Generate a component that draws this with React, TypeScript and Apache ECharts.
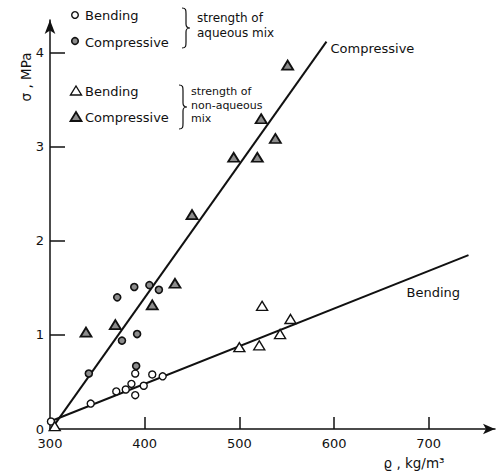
import React, { useEffect, useRef } from "react";
import * as echarts from "echarts";

// ---- data ----
const bendingAqueous: number[][] = [
  [301, 0.08], [343, 0.27], [370, 0.4], [380, 0.42], [386, 0.48], [390, 0.36],
  [399, 0.46], [408, 0.58], [419, 0.56], [390, 0.59],
];
const compressiveAqueous: number[][] = [
  [341, 0.59], [376, 0.94], [392, 1.01], [391, 0.67], [371, 1.4], [389, 1.51],
  [405, 1.53], [415, 1.48],
];
const bendingNonAqueous: number[][] = [
  [305, 0.03], [500, 0.87], [521, 0.89], [543, 1.01], [554, 1.17], [524, 1.31],
];
const compressiveNonAqueous: number[][] = [
  [338, 1.03], [369, 1.11], [408, 1.32], [432, 1.55], [450, 2.28], [494, 2.89],
  [519, 2.89], [523, 3.3], [538, 3.09], [551, 3.87],
];
const compressiveFit: number[][] = [[303, 0.02], [592, 4.12]];
const bendingFit: number[][] = [[300, 0.08], [742, 1.85]];

const xTickValues = [400, 500, 600, 700];
const xLabelValues = [300, 400, 500, 600, 700];
const yTickValues = [1, 2, 3, 4];
const yLabelValues = [0, 1, 2, 3, 4];

const FONT = "DejaVu Sans";

function bracePath(h: number): string {
  const m = h / 2;
  return `M0 0 C4 0 4 2 4 6 L4 ${m - 4} C4 ${m - 1} 5 ${m} 8 ${m} C5 ${m} 4 ${m + 1} 4 ${m + 4} L4 ${h - 6} C4 ${h - 2} 4 ${h} 0 ${h}`;
}

let registered = false;
function registerShapes() {
  if (registered) return;
  registered = true;
  echarts.graphic.registerShape("brace1", echarts.graphic.extendPath(bracePath(40), {}) as any);
  echarts.graphic.registerShape("brace2", echarts.graphic.extendPath(bracePath(44), {}) as any);
}

export default function App() {
  const ref = useRef<HTMLDivElement>(null);

  useEffect(() => {
    if (!ref.current) return;
    registerShapes();
    const chart = echarts.init(ref.current, undefined, { renderer: "svg" });

    const txt = (x: number, y: number, text: string, size = 13, extra: any = {}) => ({
      type: "text",
      x,
      y,
      style: {
        text,
        fill: "#111",
        font: `${size}px '${FONT}'`,
        verticalAlign: "middle",
        align: "left",
        ...extra,
      },
      z: 10,
    });

    const option: any = {
      animation: false,
      backgroundColor: "#fff",
      grid: { left: 50, right: 5, top: 20, bottom: 46, containLabel: false },
      xAxis: {
        type: "value",
        min: 300,
        max: 770,
        interval: 100,
        splitLine: { show: false },
        axisLine: {
          show: true,
          symbol: ["none", "arrow"],
          symbolSize: [8, 12],
          lineStyle: { color: "#111", width: 1.5 },
        },
        axisTick: {
          show: true,
          inside: true,
          length: 12,
          customValues: xTickValues,
          lineStyle: { color: "#111", width: 1.5 },
        },
        axisLabel: {
          customValues: xLabelValues,
          margin: 8,
          color: "#111",
          fontFamily: FONT,
          fontSize: 13,
        },
      },
      yAxis: {
        type: "value",
        min: 0,
        max: 4.35,
        interval: 1,
        splitLine: { show: false },
        axisLine: {
          show: true,
          symbol: ["none", "arrow"],
          symbolSize: [8, 14],
          lineStyle: { color: "#111", width: 1.5 },
        },
        axisTick: {
          show: true,
          inside: true,
          length: 15,
          customValues: yTickValues,
          lineStyle: { color: "#111", width: 1.5 },
        },
        axisLabel: {
          customValues: yLabelValues,
          margin: 6,
          color: "#111",
          fontFamily: FONT,
          fontSize: 13,
        },
      },
      series: [
        {
          type: "line",
          data: compressiveFit,
          symbol: "none",
          lineStyle: { color: "#111", width: 2 },
          endLabel: {
            show: true,
            formatter: "Compressive",
            color: "#111",
            fontFamily: FONT,
            fontSize: 13,
            distance: 4,
            offset: [0, 7],
          },
          z: 2,
        },
        {
          type: "line",
          data: bendingFit,
          symbol: "none",
          lineStyle: { color: "#111", width: 2 },
          endLabel: {
            show: true,
            formatter: "Bending",
            color: "#111",
            fontFamily: FONT,
            fontSize: 13,
            distance: 4,
            offset: [-66, 37],
          },
          z: 2,
        },
        {
          type: "scatter",
          data: bendingAqueous,
          symbol: "circle",
          symbolSize: 7,
          itemStyle: { color: "#fff", borderColor: "#111", borderWidth: 1.4, opacity: 1 },
          z: 3,
        },
        {
          type: "scatter",
          data: compressiveAqueous,
          symbol: "circle",
          symbolSize: 7,
          itemStyle: { color: "#8c8c8c", borderColor: "#111", borderWidth: 1.6, opacity: 1 },
          z: 3,
        },
        {
          type: "scatter",
          data: bendingNonAqueous,
          symbol: "triangle",
          symbolSize: [11, 9],
          itemStyle: { color: "#fff", borderColor: "#111", borderWidth: 1.4, opacity: 1 },
          z: 3,
        },
        {
          type: "scatter",
          data: compressiveNonAqueous,
          symbol: "triangle",
          symbolSize: [11, 9],
          itemStyle: { color: "#8c8c8c", borderColor: "#111", borderWidth: 1.8, opacity: 1 },
          z: 3,
        },
      ],
      graphic: [
        // axis names
        {
          type: "text",
          x: 26,
          y: 77,
          rotation: Math.PI / 2,
          style: {
            text: "σ , MPa",
            fill: "#111",
            font: `13.5px '${FONT}'`,
            align: "center",
            verticalAlign: "middle",
          },
        },
        {
          type: "text",
          x: 414,
          y: 463,
          style: {
            text: "ϱ , kg/m³",
            fill: "#111",
            font: `13.5px '${FONT}'`,
            align: "center",
            verticalAlign: "middle",
          },
        },
        // legend group 1 (aqueous)
        { type: "circle", shape: { cx: 75, cy: 15, r: 3.3 }, style: { fill: "#fff", stroke: "#111", lineWidth: 1.4 } },
        txt(85, 15, "Bending"),
        { type: "circle", shape: { cx: 75, cy: 41, r: 3.3 }, style: { fill: "#8c8c8c", stroke: "#111", lineWidth: 1.6 } },
        txt(85, 42, "Compressive"),
        { type: "brace1", x: 182, y: 8, style: { fill: "none", stroke: "#111", lineWidth: 1.2 } },
        txt(197, 18, "strength of", 12),
        txt(197, 33, "aqueous mix", 12),
        // legend group 2 (non-aqueous)
        { type: "polygon", shape: { points: [[76, 86], [81.5, 95], [70.5, 95]] }, style: { fill: "#fff", stroke: "#111", lineWidth: 1.4 } },
        txt(85, 91, "Bending"),
        { type: "polygon", shape: { points: [[76, 112], [81.5, 121], [70.5, 121]] }, style: { fill: "#8c8c8c", stroke: "#111", lineWidth: 1.8 } },
        txt(85, 117, "Compressive"),
        { type: "brace2", x: 179, y: 85, style: { fill: "none", stroke: "#111", lineWidth: 1.2 } },
        txt(191, 91.5, "strength of", 11),
        txt(191, 105, "non-aqueous", 11),
        txt(191, 118.5, "mix", 11),
      ],
    };

    chart.setOption(option);
    return () => chart.dispose();
  }, []);

  return <div ref={ref} style={{ width: 500, height: 475, position: "absolute", left: 0, top: 0 }} />;
}
